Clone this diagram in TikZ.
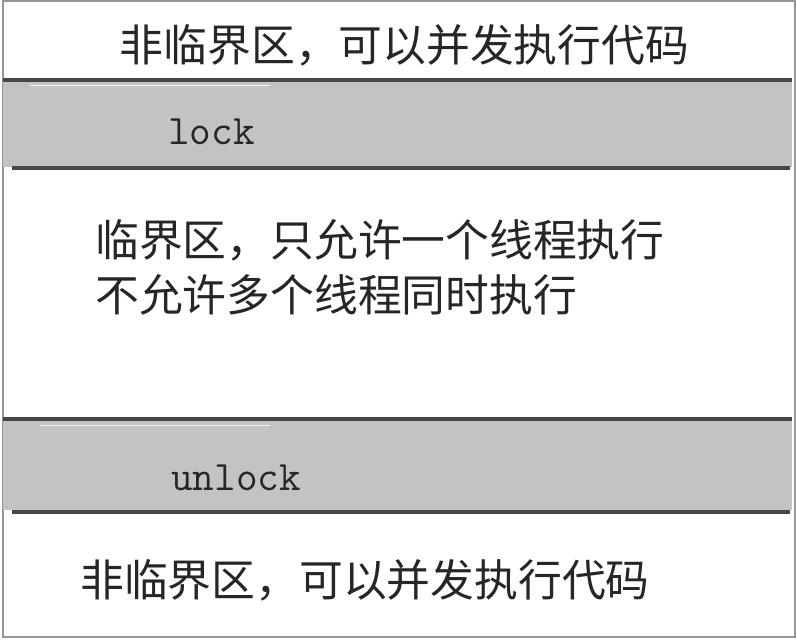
\documentclass[tikz,border=0pt]{standalone}
\usepackage{fontspec}
\newfontfamily\cjk{Noto Sans CJK SC}
\definecolor{bandgrey}{RGB}{195,195,195}
\definecolor{edgedark}{RGB}{70,70,70}
\definecolor{framegrey}{RGB}{150,150,150}
\tikzset{
  cjktext/.style={font=\cjk\fontsize{43.8}{52}\selectfont, text=black!85, inner sep=0pt},
  codetext/.style={font=\ttfamily\fontsize{42}{48}\selectfont, text=black!85, inner sep=0pt, anchor=west},
  bandfill/.style={fill=bandgrey, draw=none},
  bandedge/.style={draw=edgedark, line width=3.5pt},
  frameline/.style={draw=framegrey, line width=1.5pt}
}
\begin{document}
\begin{tikzpicture}[x=1pt,y=-1pt]
\useasboundingbox (0,0) rectangle (796,640);
\fill[white] (0,0) rectangle (796,640);
% outer frame
\draw[frameline] (3,1) -- (795,1) -- (795,637) -- (3,637) -- cycle;
% lock band
\path[bandfill] (3,81) rectangle (792,167);
\draw[bandedge] (3,80) -- (792,80);
\draw[bandedge] (12,168) -- (790,168);
\draw[white!90!gray, line width=0.6pt] (30,85) -- (270,85);
% unlock band
\path[bandfill] (3,420) rectangle (792,510);
\draw[bandedge] (3,419) -- (792,419);
\draw[bandedge] (12,512) -- (790,512);
\draw[white!90!gray, line width=0.6pt] (40,425) -- (270,425);
% texts
\node[cjktext] (top) at (404.5,45) {非临界区，可以并发执行代码};
\node[cjktext, anchor=west] (crit1) at (95,240) {临界区，只允许一个线程执行};
\node[cjktext, anchor=west] (crit2) at (95,295) {不允许多个线程同时执行};
\node[codetext] (lock) at (168,132) {lock};
\node[codetext] (unlock) at (171,478) {unlock};
\node[cjktext] (bottom) at (365,580) {非临界区，可以并发执行代码};
\end{tikzpicture}
\end{document}
